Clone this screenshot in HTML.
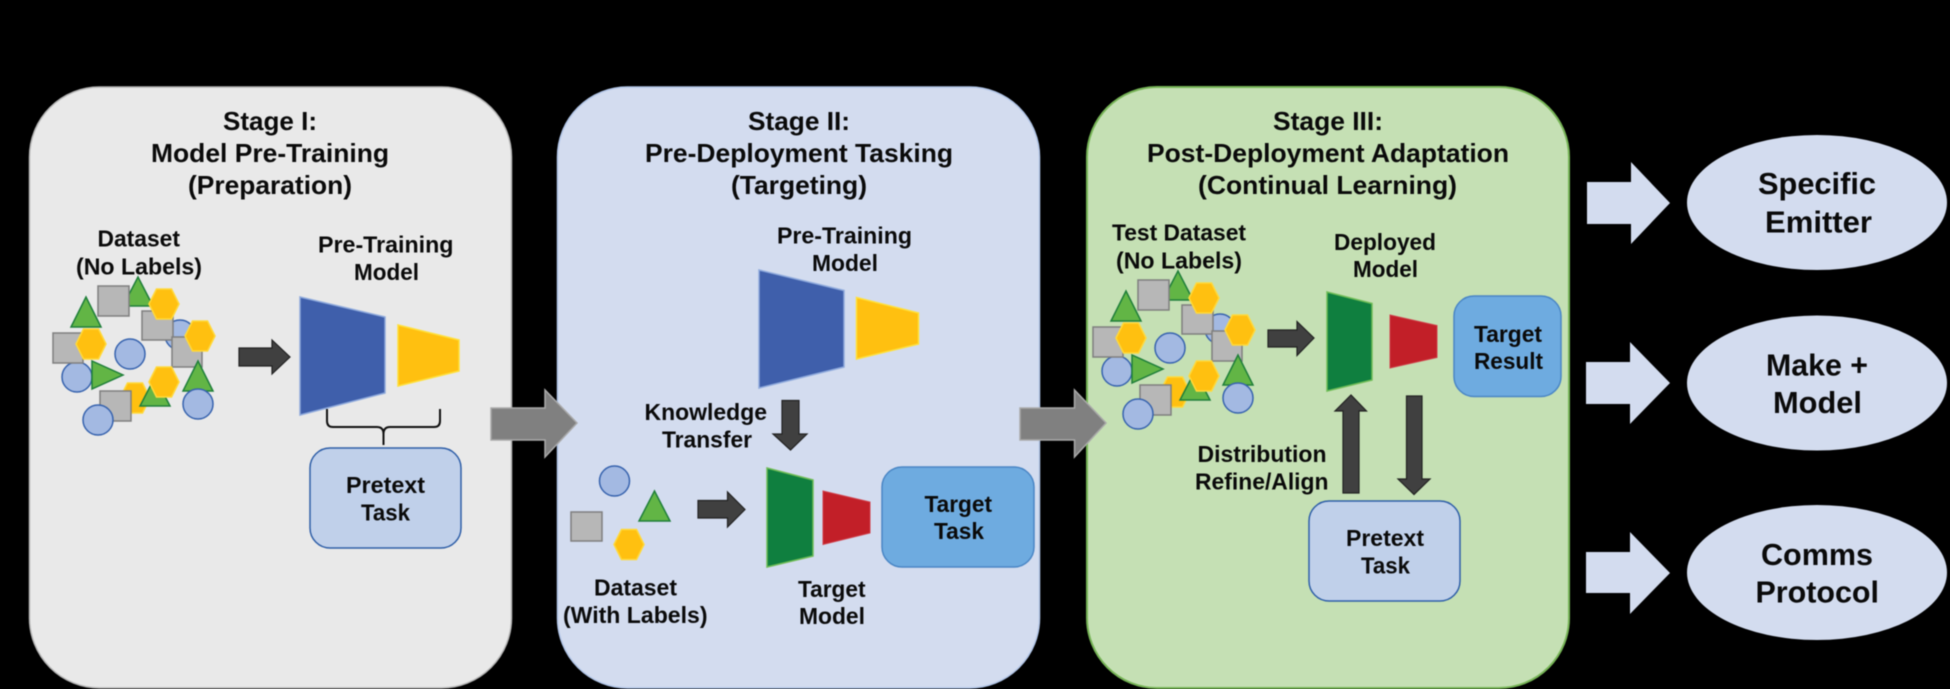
<!DOCTYPE html>
<html>
<head>
<meta charset="utf-8">
<style>
html,body{margin:0;padding:0;background:#000;width:1950px;height:689px;overflow:hidden}
svg{display:block;filter:blur(0.4px)}
text{font-family:"Liberation Sans",Arial,sans-serif;font-weight:bold;fill:#0a0a0a}
.t{font-size:26px}
.l{font-size:23px}
.b{font-size:31px}
.sq{fill:#b7b7b7;stroke:#7f7f7f;stroke-width:1.5}
.tr{fill:#62b545;stroke:#1f7f3a;stroke-width:1.5}
.hx{fill:#ffc010;stroke:#ffd93b;stroke-width:1.5}
.ci{fill:#a3b9e2;stroke:#3763ae;stroke-width:1.5}
.da{fill:#404040;stroke:#222;stroke-width:1.2}
.ga{fill:#808080;stroke:#a9a9a9;stroke-width:1.5}
.la{fill:#d3dcef}
.pt{fill:#c0d0ea;stroke:#2f5fa8;stroke-width:1.5}
.tt{fill:#6eabe0;stroke:#4a86c5;stroke-width:1.5}
.bl{fill:#3f5fab;stroke:#8faadc;stroke-width:1.5}
.ye{fill:#ffc010;stroke:#ffe03b;stroke-width:1.5}
.gr{fill:#0f7f3f;stroke:#70bd57;stroke-width:1.5}
.re{fill:#c21f28;stroke:#d0404a;stroke-width:1}
</style>
</head>
<body>
<svg xmlns="http://www.w3.org/2000/svg" width="1950" height="689" viewBox="0 0 1950 689">
<defs>
<g id="ds">
<circle class="ci" cx="180" cy="335" r="15"/>
<circle class="ci" cx="77" cy="377" r="15"/>
<rect class="sq" x="53" y="333" width="30" height="30"/>
<polygon class="hx" points="76,344 83.500,329 98.500,329 106,344 98.500,359 83.500,359"/>
<polygon class="tr" points="92,361 92,389 123,375"/>
<polygon class="tr" points="138,277 123,306 153,306"/>
<rect class="sq" x="98" y="286" width="31" height="30"/>
<rect class="sq" x="142" y="311" width="31" height="29"/>
<rect class="sq" x="172" y="337" width="30" height="30"/>
<polygon class="hx" points="149,304 156.500,289 171.500,289 179,304 171.500,319 156.500,319"/>
<polygon class="hx" points="185,336 192.500,321 207.500,321 215,336 207.500,351 192.500,351"/>
<polygon class="tr" points="86,297 71,327 101,327"/>
<circle class="ci" cx="130" cy="354" r="15"/>
<polygon class="hx" points="120,398 127.500,383 142.500,383 150,398 142.500,413 127.500,413"/>
<rect class="sq" x="100" y="391" width="31" height="30"/>
<polygon class="tr" points="155,377 140,406 170,406"/>
<polygon class="hx" points="149,382 156.500,367 171.500,367 179,382 171.500,397 156.500,397"/>
<polygon class="tr" points="198,361 183,391 213,391"/>
<circle class="ci" cx="198" cy="404" r="15"/>
<circle class="ci" cx="98" cy="420" r="15"/>
</g>
</defs>

<rect width="1950" height="689" fill="#000"/>

<!-- Panels -->
<rect x="29.500" y="87" width="482" height="601" rx="70" ry="70" fill="#e9e9e9" stroke="#b4b4b4" stroke-width="1.500"/>
<rect x="557.500" y="87" width="482" height="601" rx="70" ry="70" fill="#d3dcef" stroke="#b0c4e6" stroke-width="1.500"/>
<rect x="1087" y="87" width="482" height="601" rx="70" ry="70" fill="#c5e0b4" stroke="#76b456" stroke-width="2"/>

<!-- Stage I -->
<text class="t" x="223" y="130" textLength="94" lengthAdjust="spacingAndGlyphs">Stage I:</text>
<text class="t" x="151" y="162" textLength="238" lengthAdjust="spacingAndGlyphs">Model Pre-Training</text>
<text class="t" x="188" y="194" textLength="164" lengthAdjust="spacingAndGlyphs">(Preparation)</text>
<text class="l" x="97.500" y="246.500" textLength="82.500" lengthAdjust="spacingAndGlyphs">Dataset</text>
<text class="l" x="76" y="274.500" textLength="126" lengthAdjust="spacingAndGlyphs">(No Labels)</text>
<use href="#ds"/>
<text class="l" x="318" y="252.500" textLength="135.500" lengthAdjust="spacingAndGlyphs">Pre-Training</text>
<text class="l" x="354" y="280" textLength="65" lengthAdjust="spacingAndGlyphs">Model</text>
<polygon class="bl" points="300,297 385,317 385,393 300,415"/>
<polygon class="ye" points="398,325 459,340 459,371 398,386"/>
<polygon class="da" points="239,348 272,348 272,340 290,357 272,374 272,366 239,366"/>
<path d="M327,409 V421 Q327,427 333,427 H377 Q383.500,427 383.500,434 V445 M383.500,434 Q383.500,427 390,427 H434 Q440,427 440,421 V409" fill="none" stroke="#111" stroke-width="2"/>
<rect class="pt" x="310" y="448" width="151" height="100" rx="20" ry="20"/>
<text class="l" x="346" y="493" textLength="79" lengthAdjust="spacingAndGlyphs">Pretext</text>
<text class="l" x="361" y="520.500" textLength="49" lengthAdjust="spacingAndGlyphs">Task</text>

<!-- Stage II -->
<text class="t" x="748" y="130" textLength="102" lengthAdjust="spacingAndGlyphs">Stage II:</text>
<text class="t" x="645" y="162" textLength="308" lengthAdjust="spacingAndGlyphs">Pre-Deployment Tasking</text>
<text class="t" x="731" y="194" textLength="136" lengthAdjust="spacingAndGlyphs">(Targeting)</text>
<text class="l" x="777" y="243.500" textLength="135" lengthAdjust="spacingAndGlyphs">Pre-Training</text>
<text class="l" x="812" y="271" textLength="66" lengthAdjust="spacingAndGlyphs">Model</text>
<polygon class="bl" points="759,270 844,290.500 844,367 759,388"/>
<polygon class="ye" points="856.500,297.500 918.500,313 918.500,344 856.500,359"/>
<polygon class="da" points="782,400.500 799,400.500 799,434 807,434 790.500,450 773,434 782,434"/>
<text class="l" x="644.500" y="420" textLength="122.500" lengthAdjust="spacingAndGlyphs">Knowledge</text>
<text class="l" x="662" y="447.500" textLength="90" lengthAdjust="spacingAndGlyphs">Transfer</text>
<circle class="ci" cx="614.500" cy="481" r="15"/>
<polygon class="tr" points="654.500,491 639,521 670,521"/>
<rect class="sq" x="571" y="512" width="31" height="29"/>
<polygon class="hx" points="614,544.500 621.500,529.500 636.500,529.500 644,544.500 636.500,559.500 621.500,559.500"/>
<polygon class="da" points="698,500.500 727.500,500.500 727.500,492 745,509.500 727.500,527 727.500,518 698,518"/>
<polygon class="gr" points="767,468 813,480 813,556 767,567"/>
<polygon class="re" points="823,491 870,502 870,533 823,544.500"/>
<rect class="tt" x="882" y="467" width="152" height="100" rx="20" ry="20"/>
<text class="l" x="924.500" y="512" textLength="67.500" lengthAdjust="spacingAndGlyphs">Target</text>
<text class="l" x="934" y="539" textLength="50" lengthAdjust="spacingAndGlyphs">Task</text>
<text class="l" x="594" y="595.500" textLength="83" lengthAdjust="spacingAndGlyphs">Dataset</text>
<text class="l" x="563" y="623" textLength="144.500" lengthAdjust="spacingAndGlyphs">(With Labels)</text>
<text class="l" x="798" y="597" textLength="67.500" lengthAdjust="spacingAndGlyphs">Target</text>
<text class="l" x="799" y="624" textLength="66" lengthAdjust="spacingAndGlyphs">Model</text>

<!-- Stage III -->
<text class="t" x="1273" y="130" textLength="110" lengthAdjust="spacingAndGlyphs">Stage III:</text>
<text class="t" x="1147" y="162" textLength="362" lengthAdjust="spacingAndGlyphs">Post-Deployment Adaptation</text>
<text class="t" x="1198" y="194" textLength="259" lengthAdjust="spacingAndGlyphs">(Continual Learning)</text>
<text class="l" x="1112" y="240.500" textLength="134" lengthAdjust="spacingAndGlyphs">Test Dataset</text>
<text class="l" x="1116" y="268.500" textLength="126" lengthAdjust="spacingAndGlyphs">(No Labels)</text>
<use href="#ds" transform="translate(1040,-6)"/>
<text class="l" x="1334" y="250" textLength="102" lengthAdjust="spacingAndGlyphs">Deployed</text>
<text class="l" x="1353" y="277" textLength="65" lengthAdjust="spacingAndGlyphs">Model</text>
<polygon class="gr" points="1327,292 1372,303.500 1372,380 1327,391"/>
<polygon class="re" points="1390,315 1437,325.500 1437,357.500 1390,368"/>
<polygon class="da" points="1268,330 1297,330 1297,321.500 1314,338 1297,355.500 1297,347 1268,347"/>
<rect class="tt" x="1454" y="296" width="107" height="100.500" rx="20" ry="20"/>
<text class="l" x="1474" y="342" textLength="68" lengthAdjust="spacingAndGlyphs">Target</text>
<text class="l" x="1474" y="369" textLength="69" lengthAdjust="spacingAndGlyphs">Result</text>
<polygon class="da" points="1343,493 1359,493 1359,411 1366.500,411 1351,395 1335,411 1343,411"/>
<polygon class="da" points="1406.500,396 1422,396 1422,479 1430,479 1414,494.500 1398,479 1406.500,479"/>
<text class="l" x="1197.500" y="462" textLength="129" lengthAdjust="spacingAndGlyphs">Distribution</text>
<text class="l" x="1195" y="489.500" textLength="133.500" lengthAdjust="spacingAndGlyphs">Refine/Align</text>
<rect class="pt" x="1309" y="501" width="151" height="100" rx="20" ry="20"/>
<text class="l" x="1346" y="546" textLength="78" lengthAdjust="spacingAndGlyphs">Pretext</text>
<text class="l" x="1361" y="573.500" textLength="49" lengthAdjust="spacingAndGlyphs">Task</text>

<!-- Grey arrows between stages -->
<polygon class="ga" points="491,408 545,408 545,390 577,423 545,457 545,440 491,440"/>
<polygon class="ga" points="1020,408 1074.500,408 1074.500,390 1106,423 1074.500,457 1074.500,440 1020,440"/>

<!-- Output arrows -->
<polygon class="la" points="1587,182 1631,182 1631,162 1670,203 1631,244 1631,224 1587,224"/>
<polygon class="la" points="1586,362 1630,362 1630,342 1670,383 1630,424 1630,404 1586,404"/>
<polygon class="la" points="1586,552 1630,552 1630,532 1670,573 1630,614 1630,593 1586,593"/>

<!-- Outcomes -->
<ellipse class="la" cx="1817" cy="202.500" rx="130" ry="67.500"/>
<ellipse class="la" cx="1817" cy="383" rx="130" ry="67.500"/>
<ellipse class="la" cx="1817" cy="572.500" rx="130" ry="67.500"/>
<text class="b" x="1758" y="194" textLength="118" lengthAdjust="spacingAndGlyphs">Specific</text>
<text class="b" x="1765" y="232.500" textLength="107" lengthAdjust="spacingAndGlyphs">Emitter</text>
<text class="b" x="1766" y="375.500" textLength="102" lengthAdjust="spacingAndGlyphs">Make +</text>
<text class="b" x="1773" y="413" textLength="89" lengthAdjust="spacingAndGlyphs">Model</text>
<text class="b" x="1761" y="565" textLength="112" lengthAdjust="spacingAndGlyphs">Comms</text>
<text class="b" x="1755.500" y="602.500" textLength="123.500" lengthAdjust="spacingAndGlyphs">Protocol</text>
</svg>
</body>
</html>
